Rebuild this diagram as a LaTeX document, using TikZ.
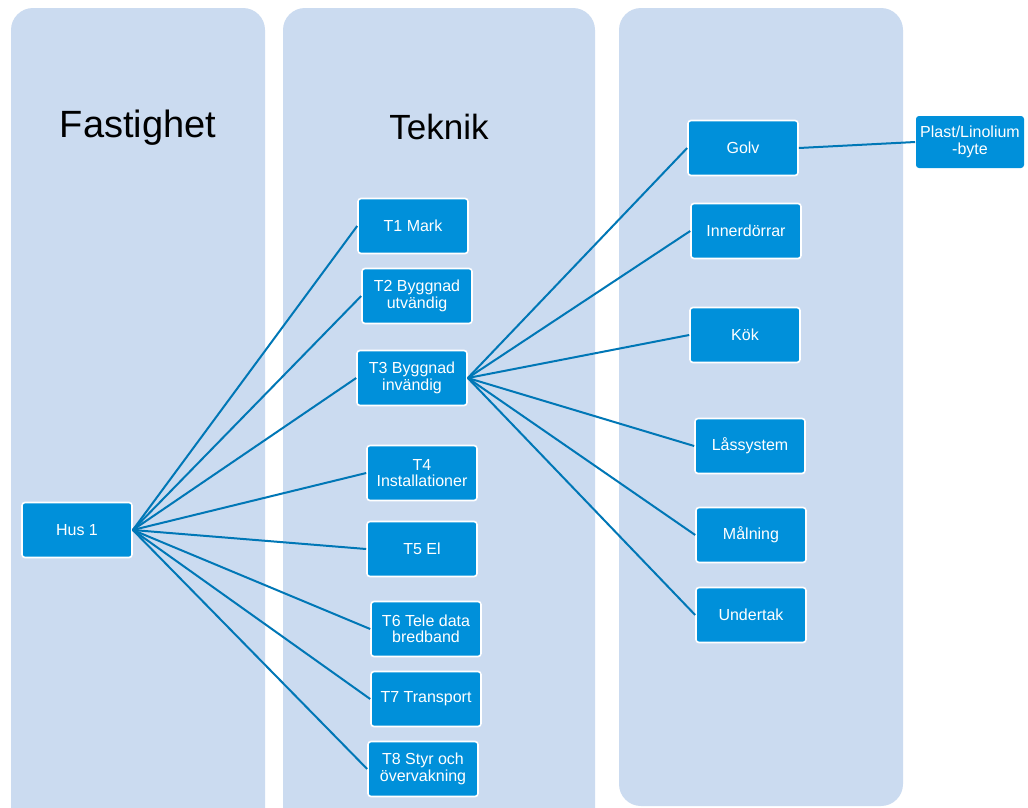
\documentclass[tikz,border=0pt]{standalone}
\usepackage{fontspec}
\setmainfont{Liberation Sans}
\definecolor{lane}{RGB}{203,219,240}
\definecolor{boxblue}{RGB}{0,144,218}
\definecolor{linkblue}{RGB}{0,119,182}
\tikzset{
  lane box/.style={
    rounded corners=22pt,
    fill=lane,
  },
  item node/.style={
    rounded corners=3pt,
    draw=white,
    line width=1.6pt,
    fill=boxblue,
    text=white,
    align=center,
    font=\fontsize{16}{16.5}\selectfont,
    minimum width=110pt,
    minimum height=55pt,
    inner sep=1pt,
  },
  link/.style={
    draw=linkblue,
    line width=2pt,
  },
}

\begin{document}
\begin{tikzpicture}[x=1pt, y=-1pt]
      \useasboundingbox (0,0) rectangle (1028,807);
      \fill[white] (0,0) rectangle (1028,807);
      \path[lane box] (11,8) rectangle (265,830);
      \path[lane box] (283,8) rectangle (595,830);
      \path[lane box] (619,8) rectangle (903,806);
      \node[font=\fontsize{38}{38}\selectfont] (fastighet) at (138,128) {Fastighet};
      \node[font=\fontsize{35}{35}\selectfont] (teknik) at (439,127) {Teknik};

      \node[item node] (hus) at (77,530) {Hus 1};

      \node[item node] (t1) at (413,226) {T1 Mark};
      \node[item node] (t2) at (417,296) {T2 Byggnad\\utvändig};
      \node[item node] (t3) at (412,378) {T3 Byggnad\\invändig};
      \node[item node] (t4) at (422,473) {T4\\Installationer};
      \node[item node] (t5) at (422,549) {T5 El};
      \node[item node] (t6) at (426,629) {T6 Tele data\\bredband};
      \node[item node] (t7) at (426,699) {T7 Transport};
      \node[item node] (t8) at (423,769) {T8 Styr och\\övervakning};

      \node[item node] (golv) at (743,148) {Golv};
      \node[item node] (dorrar) at (746,231) {Innerdörrar};
      \node[item node] (kok) at (745,335) {Kök};
      \node[item node] (las) at (750,446) {Låssystem};
      \node[item node] (malning) at (751,535) {Målning};
      \node[item node] (tak) at (751,615) {Undertak};

      \node[item node, draw=none, minimum width=108pt, minimum height=52pt] (plast) at (970,142) {Plast/Linolium\\-byte};

      \foreach \t in {t1,t2,t3,t4,t5,t6,t7,t8}
        \draw[link] (hus.east) -- (\t.west);
      \foreach \r in {golv,dorrar,kok,las,malning,tak}
        \draw[link] (t3.east) -- (\r.west);
      \draw[link] (golv.east) -- (plast.west);
    \end{tikzpicture}
\end{document}
